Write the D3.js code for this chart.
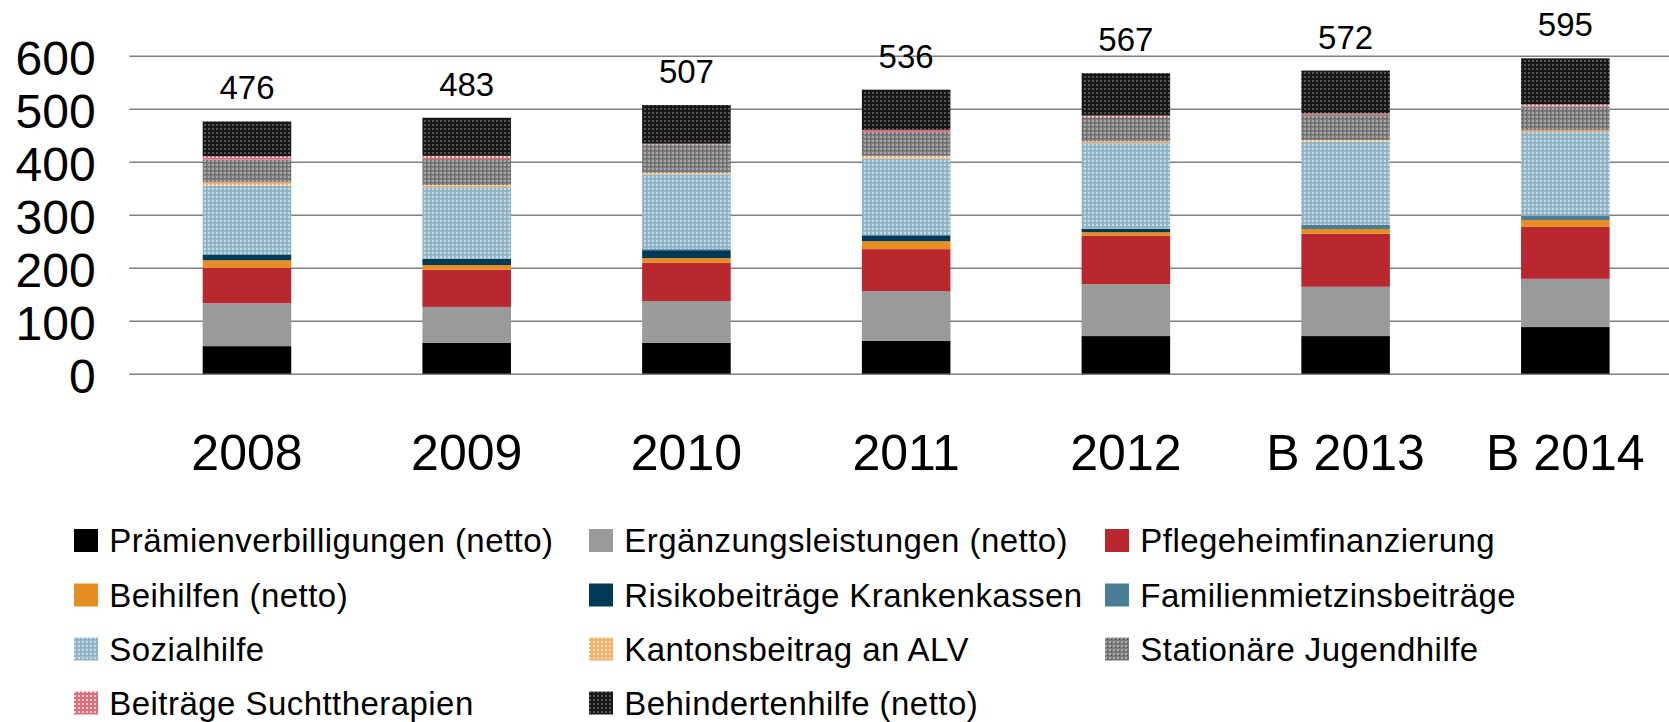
<!DOCTYPE html>
<html>
<head>
<meta charset="utf-8">
<script src="https://cdn.jsdelivr.net/npm/d3@7/dist/d3.min.js"></script>
<style>
  html, body { margin: 0; padding: 0; background: #fff; }
  svg { display: block; font-family: "Liberation Sans", Arial, Helvetica, sans-serif; }
</style>
</head>
<body>
<svg id="chart" width="1669" height="722"></svg>
<script>
// ---- Data ----
const categories = ["2008", "2009", "2010", "2011", "2012", "B 2013", "B 2014"];
const praemien    = [52, 58, 58, 62, 71, 71, 88];
const ergaenzung  = [81, 68, 79, 94, 98, 93, 91];
const pflege      = [67, 70, 72, 79, 91, 100, 98];
const beihilfen   = [14, 9, 9, 15, 7, 9, 13];
const risiko      = [11, 12, 15, 10, 6, 0, 0];
const familien    = [0, 0, 2, 2, 1, 8, 8];
const sozialhilfe = [130, 135, 141, 144, 161, 157, 158];
const alv         = [6, 4, 3, 5, 3, 3, 3];
const jugend      = [43, 49, 54, 45, 46, 47, 45];
const sucht       = [6, 6, 1, 4, 3, 3, 4];
const behinderten = [66, 72, 73, 76, 80, 81, 87];
const totals      = [476, 483, 507, 536, 567, 572, 595];
const yTicks      = [0, 100, 200, 300, 400, 500, 600];

const seriesNames = [
  "Prämienverbilligungen (netto)", "Ergänzungsleistungen (netto)", "Pflegeheimfinanzierung",
  "Beihilfen (netto)", "Risikobeiträge Krankenkassen", "Familienmietzinsbeiträge",
  "Sozialhilfe", "Kantonsbeitrag an ALV", "Stationäre Jugendhilfe",
  "Beiträge Suchttherapien", "Behindertenhilfe (netto)"
];
const seriesValues = [praemien, ergaenzung, pflege, beihilfen, risiko, familien,
  sozialhilfe, alv, jugend, sucht, behinderten];

// ---- Setup ----
const svg = d3.select("#chart");
const plotLeft = 129.3, plotRight = 1669;
const y = d3.scaleLinear().domain([0, 600]).range([373.7, 55.7]);
const x = d3.scaleBand().domain(categories).range([129.3, 1683])
  .paddingInner(0.597).paddingOuter(0.334);

// Patterns
const defs = svg.append("defs");
function dotPattern(id, base, dot, dot2) {
  const p = defs.append("pattern").attr("id", id).attr("patternUnits", "userSpaceOnUse")
    .attr("width", 4).attr("height", 4);
  p.append("rect").attr("width", 4).attr("height", 4).attr("fill", base);
  p.append("rect").attr("x", 0).attr("y", 0).attr("width", 2).attr("height", 2).attr("fill", dot);
  if (dot2) p.append("rect").attr("x", 2).attr("y", 2).attr("width", 1).attr("height", 1).attr("fill", dot2);
  return `url(#${id})`;
}
const fills = [
  "#000000",
  "#9a9a9a",
  "#b9272f",
  "#e68e22",
  "#013a57",
  "#4a7d96",
  dotPattern("pSoz", "#93b6c8", "#c6dae5", "#7aa0b3"),
  dotPattern("pAlv", "#f4b06a", "#fbe0c2"),
  dotPattern("pJug", "#7c7c7c", "#a9a9a9", "#4a4a4a"),
  dotPattern("pSuc", "#dc6f7a", "#f5cfd2"),
  dotPattern("pBeh", "#171717", "#555555")
];

// Grid + y axis
const yAxis = d3.axisLeft(y).tickValues(yTicks).tickSize(-(plotRight - plotLeft)).tickPadding(33.6);
const gy = svg.append("g").attr("transform", `translate(${plotLeft},0)`).call(yAxis);
gy.select(".domain").remove();
gy.selectAll(".tick line").attr("stroke", "#808080").attr("stroke-width", 1.6);
gy.selectAll(".tick text").attr("font-size", 48).attr("fill", "#000").attr("dy", "0.39em")
  .style("font-family", "'Liberation Sans', Arial, sans-serif");

// Stacked bars
const table = categories.map((c, i) => {
  const row = { cat: c };
  seriesNames.forEach((s, k) => row[s] = seriesValues[k][i]);
  return row;
});
const stacked = d3.stack().keys(seriesNames)(table);
svg.append("g").selectAll("g").data(stacked).join("g")
  .attr("fill", (d, i) => fills[i])
  .selectAll("rect").data(d => d).join("rect")
  .attr("x", d => x(d.data.cat))
  .attr("width", x.bandwidth())
  .attr("y", d => y(d[1]))
  .attr("height", d => Math.max(0, y(d[0]) - y(d[1])));

// Totals labels
svg.append("g").selectAll("text").data(categories).join("text")
  .attr("x", d => x(d) + x.bandwidth() / 2)
  .attr("y", (d, i) => y(totals[i]) - 22)
  .attr("text-anchor", "middle")
  .attr("font-size", 33)
  .attr("fill", "#000")
  .text((d, i) => totals[i]);

// x axis labels
const xAxis = d3.axisBottom(x).tickSize(0).tickPadding(61);
const gx = svg.append("g").attr("transform", `translate(0,${y(0)})`).call(xAxis);
gx.select(".domain").remove();
gx.selectAll(".tick text").attr("font-size", 50).attr("fill", "#000")
  .style("font-family", "'Liberation Sans', Arial, sans-serif");

// Legend
const colX = [74, 589, 1105];
const rowY = [540.5, 595, 649, 703];
const legend = svg.append("g").selectAll("g").data(seriesNames).join("g")
  .attr("transform", (d, i) => `translate(${colX[i % 3]},${rowY[Math.floor(i / 3)]})`);
legend.append("rect").attr("x", 0).attr("y", -11.5).attr("width", 24).attr("height", 23)
  .attr("fill", (d, i) => fills[i]);
legend.append("text").attr("x", 35.3).attr("y", 11.5)
  .attr("font-size", 33).attr("letter-spacing", "0.45px").attr("fill", "#000")
  .text(d => d);
</script>
</body>
</html>
